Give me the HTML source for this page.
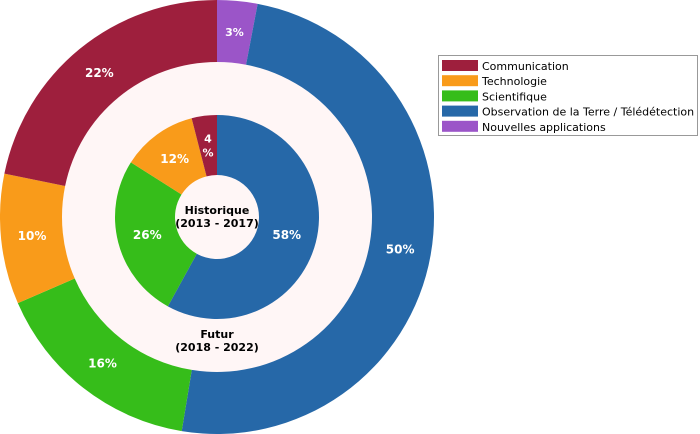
<!DOCTYPE html>
<html><head><meta charset="utf-8"><style>
body{margin:0;background:#fff;font-family:"DejaVu Sans","Liberation Sans",sans-serif;}
svg{display:block}
</style></head><body>
<svg width="700" height="434" viewBox="0 0 700 434">
<circle cx="217" cy="217" r="155" fill="#fff6f6"/>
<g id="outer"></g><g id="inner"></g>
<text x="217" y="214" text-anchor="middle" font-size="11" font-weight="bold">Historique</text>
<text x="217" y="227" text-anchor="middle" font-size="11" font-weight="bold">(2013 - 2017)</text>
<text x="217" y="338" text-anchor="middle" font-size="11" font-weight="bold">Futur</text>
<text x="217" y="351" text-anchor="middle" font-size="11" font-weight="bold">(2018 - 2022)</text>
<g>
<rect x="438.5" y="55.5" width="259" height="80" fill="#fff" stroke="#999"/>
<g id="legend"></g>
</g>
</svg>
<script>
const categories=["Communication","Technologie","Scientifique","Observation de la Terre / Télédétection","Nouvelles applications"];
const colors=["#9e1f3d","#f99b1a","#36bd1a","#2668a8","#9b55c8"];
// clockwise order from top
const outerOrder=[4,3,2,1,0];
const outerValues=[3.0,49.6,15.9,9.7,21.8];
const innerOrder=[3,2,1,0];
const innerValues=[58,26,12,4];
const NS="http://www.w3.org/2000/svg",cx=217,cy=217;
function pt(r,f){const a=f*2*Math.PI;return [cx+r*Math.sin(a),cy-r*Math.cos(a)];}
function ring(gid,order,vals,r0,r1,name){
  const g=document.getElementById(gid);const tot=vals.reduce((a,b)=>a+b,0);let c=0;
  vals.forEach((v,i)=>{
    const f0=c/tot,f1=(c+v)/tot;c+=v;const big=(f1-f0)>0.5?1:0;
    const [a,b]=pt(r1,f0),[d,e]=pt(r1,f1),[h,k]=pt(r0,f1),[m,n]=pt(r0,f0);
    const p=document.createElementNS(NS,"path");
    p.setAttribute("d",`M${a},${b}A${r1},${r1} 0 ${big} 1 ${d},${e}L${h},${k}A${r0},${r0} 0 ${big} 0 ${m},${n}Z`);
    p.setAttribute("fill",colors[order[i]]);
    
    
    g.appendChild(p);
    const [tx,ty]=pt((r0+r1)/2,(f0+f1)/2);
    const t=document.createElementNS(NS,"text");
    t.setAttribute("x",tx);t.setAttribute("y",ty+4);t.setAttribute("text-anchor","middle");
    t.setAttribute("font-size","12");t.setAttribute("font-weight","bold");t.setAttribute("fill","#fff");
    
    
    const pct=Math.round(v/tot*100);
    if(pct<5){t.setAttribute("font-size","11");
      const s1=document.createElementNS(NS,"tspan");s1.setAttribute("x",tx);s1.setAttribute("y",ty-3);s1.textContent=pct;
      const s2=document.createElementNS(NS,"tspan");s2.setAttribute("x",tx);s2.setAttribute("y",ty+11);s2.textContent="%";
      if(gid==="outer"){t.textContent=pct+"%";}else{t.appendChild(s1);t.appendChild(s2);}
    } else t.textContent=pct+"%";
    g.appendChild(t);
  });
}
ring("outer",outerOrder,outerValues,155,217,"outer");
ring("inner",innerOrder,innerValues,42,102,"inner");
const lg=document.getElementById("legend");
categories.forEach((c,i)=>{
  const y=60+i*15.2;
  const r=document.createElementNS(NS,"rect");
  r.setAttribute("x",442);r.setAttribute("y",y);r.setAttribute("width",36);r.setAttribute("height",11);r.setAttribute("fill",colors[i]);
  
  
  lg.appendChild(r);
  const t=document.createElementNS(NS,"text");
  t.setAttribute("x",482);t.setAttribute("y",y+10);t.setAttribute("font-size","11");t.textContent=c;
  
  
  lg.appendChild(t);
});
</script>
</body></html>
